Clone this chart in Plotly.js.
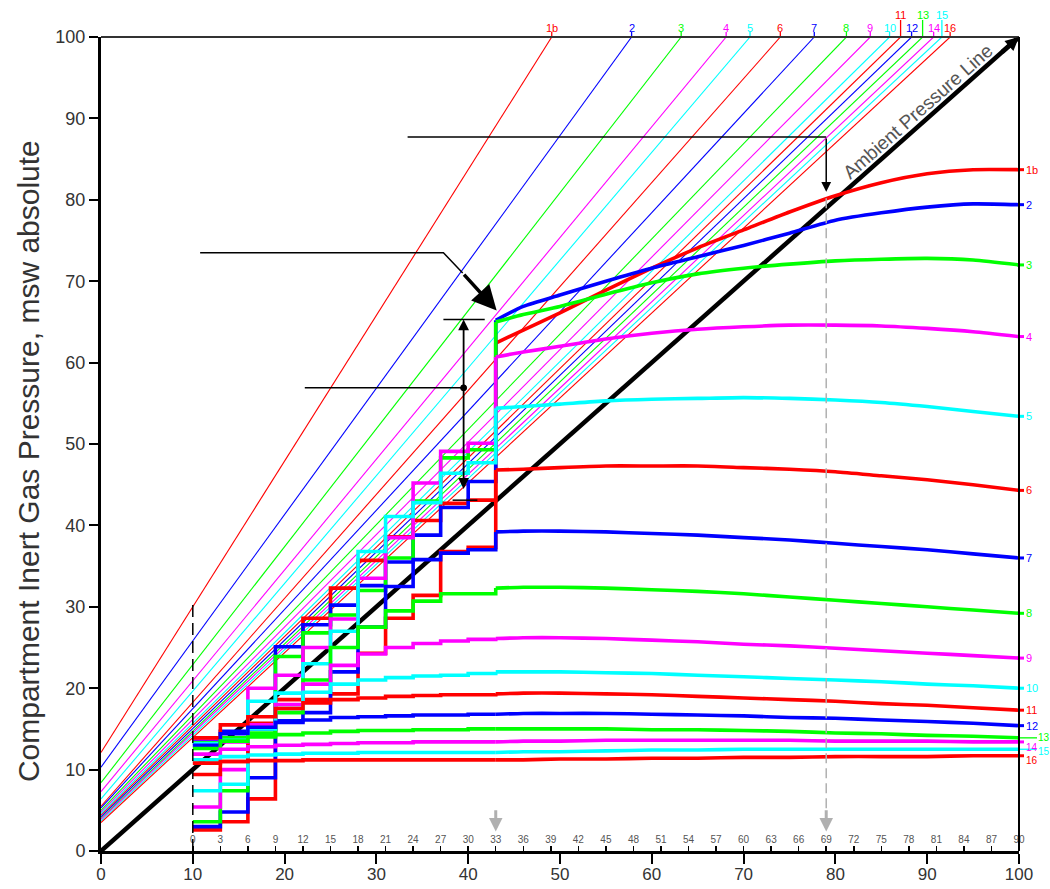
<!DOCTYPE html>
<html><head><meta charset="utf-8">
<script src="https://cdn.plot.ly/plotly-3.0.1.min.js"></script>
<style>html,body{margin:0;padding:0;background:#fff}#chart{width:1050px;height:889px}</style>
</head><body><div id="chart"></div>
<script>
// ---------- DATA ----------
const compLabels = ['1b','2','3','4','5','6','7','8','9','10','11','12','13','14','15','16'];
const palette = ['#ff0000','#0000ff','#00ff00','#ff00ff','#00ffff'];

// M-value lines: value at ambient 0 and ambient value where they reach 100
const mvIntercept = [12.1, 10.3, 8.4, 7.3, 6.4, 5.5, 5.3, 5.0, 4.8, 4.6, 4.4, 4.2, 4.0, 3.9, 3.7, 3.5];
const mvTopX      = [49.1, 57.8, 63.2, 68.1, 70.7, 74.0, 77.7, 81.2, 83.8, 85.9, 87.1, 88.3, 89.5, 90.7, 91.6, 92.5];

// staircase (compression stages), ambient pressure at stage start
const stepX = [10, 13, 16, 19, 22, 25, 28, 31, 34, 37, 40, 43];
const stairValues = [
  [2.6, 3.6, 6.4, 18.6, 28.6, 32.3, 35.7, 38.6, 40.6, 42.7, 43.1],
  [3.0, 4.8, 9.0, 25.1, 27.8, 30.2, 32.6, 35.5, 38.8, 42.2, 45.4],
  [3.6, 7.4, 14.2, 23.9, 26.8, 29.0, 32.0, 36.0, 43.0, 48.3, 49.3],
  [5.4, 10.0, 20.0, 21.6, 25.0, 28.5, 33.5, 38.5, 45.2, 49.1, 50.1],
  [7.4, 8.2, 18.4, 19.4, 23.0, 27.0, 36.8, 41.1, 42.8, 46.4, 47.7],
  [9.4, 11.0, 15.7, 17.5, 18.6, 19.3, 24.3, 28.6, 31.4, 36.8, 37.3],
  [13.6, 14.7, 15.0, 16.0, 17.0, 22.0, 27.5, 32.5, 35.8, 36.6, 37.0],
  [13.3, 13.9, 14.5, 17.0, 21.0, 25.0, 27.5, 29.5, 30.7, 31.6, 31.6],
  [13.8, 13.4, 15.5, 18.0, 20.5, 22.8, 24.2, 25.0, 25.5, 25.8, 26.0],
  [13.2, 13.6, 15.0, 17.5, 19.5, 20.5, 21.0, 21.3, 21.5, 21.6, 21.8],
  [13.9, 15.5, 16.5, 17.5, 18.2, 18.6, 18.8, 19.0, 19.1, 19.2, 19.2],
  [13.0, 14.4, 15.2, 15.8, 16.1, 16.4, 16.5, 16.6, 16.7, 16.7, 16.8],
  [12.6, 13.5, 14.0, 14.3, 14.5, 14.7, 14.8, 14.8, 14.9, 14.9, 15.0],
  [11.9, 12.5, 12.8, 13.0, 13.1, 13.2, 13.3, 13.3, 13.4, 13.4, 13.4],
  [11.2, 11.6, 11.8, 11.9, 12.0, 12.0, 12.1, 12.1, 12.1, 12.1, 12.1],
  [10.8, 11.0, 11.1, 11.1, 11.2, 11.2, 11.2, 11.2, 11.2, 11.2, 11.2]
];

// continuous curves after the last stage
const curveX = [43, 46, 50, 55, 60, 65, 70, 75, 80, 85, 90, 95, 100];
const curveValues = [
  [62.4, 64.0, 66.1, 68.9, 71.6, 74.1, 76.3, 78.5, 80.5, 82.1, 83.2, 83.7, 83.7],
  [65.2, 66.9, 68.3, 70.0, 71.6, 73.0, 74.4, 75.9, 77.5, 78.4, 79.1, 79.5, 79.4],
  [65.0, 65.9, 66.9, 68.4, 69.8, 70.9, 71.6, 72.1, 72.5, 72.7, 72.8, 72.6, 72.0],
  [60.7, 61.3, 62.0, 62.9, 63.6, 64.1, 64.4, 64.6, 64.6, 64.5, 64.2, 63.8, 63.2],
  [54.4, 54.6, 54.9, 55.3, 55.5, 55.6, 55.7, 55.6, 55.4, 55.1, 54.6, 54.0, 53.4],
  [46.8, 46.9, 47.1, 47.3, 47.3, 47.3, 47.1, 46.9, 46.6, 46.1, 45.6, 45.0, 44.3],
  [39.2, 39.3, 39.3, 39.2, 39.0, 38.8, 38.5, 38.2, 37.8, 37.4, 37.0, 36.5, 36.0],
  [32.3, 32.4, 32.4, 32.3, 32.1, 31.9, 31.6, 31.2, 30.8, 30.4, 30.0, 29.6, 29.2],
  [26.1, 26.2, 26.2, 26.1, 25.9, 25.7, 25.4, 25.2, 24.9, 24.6, 24.3, 24.0, 23.7],
  [22.0, 22.0, 22.0, 21.9, 21.8, 21.6, 21.4, 21.2, 21.0, 20.8, 20.5, 20.3, 20.0],
  [19.3, 19.4, 19.4, 19.3, 19.2, 19.0, 18.8, 18.6, 18.4, 18.1, 17.9, 17.6, 17.3],
  [16.8, 16.9, 16.9, 16.9, 16.8, 16.7, 16.6, 16.4, 16.3, 16.1, 15.9, 15.7, 15.4],
  [15.0, 15.0, 15.0, 15.0, 14.9, 14.9, 14.8, 14.7, 14.5, 14.4, 14.2, 14.1, 13.9],
  [13.4, 13.5, 13.5, 13.6, 13.6, 13.6, 13.6, 13.6, 13.5, 13.5, 13.5, 13.4, 13.4],
  [12.1, 12.2, 12.2, 12.3, 12.4, 12.4, 12.5, 12.5, 12.5, 12.5, 12.5, 12.5, 12.5],
  [11.2, 11.2, 11.3, 11.3, 11.4, 11.4, 11.5, 11.5, 11.6, 11.6, 11.6, 11.7, 11.7]
];

const ambientX = [0, 100];
const ambientY = [0, 100];
const xTicks = [0,10,20,30,40,50,60,70,80,90,100];
const yTicks = [0,10,20,30,40,50,60,70,80,90,100];
const minuteTicks = [0,3,6,9,12,15,18,21,24,27,30,33,36,39,42,45,48,51,54,57,60,63,66,69,72,75,78,81,84,87,90];
const raisedTop = ['11','13','15'];
const raisedRight = ['13','15'];
// pixel nudges of right-hand labels (style only)
const rightLabelNudge = {'13': 0, '14': -6, '15': -2, '16': -5};

// ---------- BUILD ----------
const traces = [];
compLabels.forEach((lab, i) => {
  traces.push({x:[0, mvTopX[i]], y:[mvIntercept[i], 100], type:'scatter', mode:'lines',
    line:{color:palette[i%5], width:1.1}, hoverinfo:'skip', showlegend:false});
});
traces.push({x:ambientX, y:ambientY, type:'scatter', mode:'lines',
  line:{color:'#000', width:4.5}, showlegend:false, hoverinfo:'skip'});
compLabels.forEach((lab, i) => {
  traces.push({x:stepX, y:stairValues[i].concat([curveValues[i][0]]), type:'scatter', mode:'lines',
    line:{color:palette[i%5], width:3.6, shape:'hv'}, showlegend:false, name:lab});
  traces.push({x:curveX, y:curveValues[i], type:'scatter', mode:'lines',
    line:{color:palette[i%5], width:3.6, shape:'spline', smoothing:0.6}, showlegend:false, name:lab});
});
// dummy trace for secondary axis
traces.push({x:[minuteTicks[0]], y:[0], xaxis:'x2', yaxis:'y', mode:'markers',
  marker:{opacity:0}, showlegend:false, hoverinfo:'skip'});

const small = {family:'Liberation Sans, Arial, sans-serif', size:11};
const annotations = [];
const shapes = [];
compLabels.forEach((lab, i) => {
  const col = palette[i%5];
  const up = raisedTop.includes(lab);
  shapes.push({type:'line', xref:'x', yref:'paper', x0:mvTopX[i], x1:mvTopX[i], y0:1, y1:1 + (up ? 17 : 5)/814,
    line:{color:col, width:1.3}});
  annotations.push({x:mvTopX[i], y:1, xref:'x', yref:'paper', yanchor:'bottom', xanchor:'center',
    yshift: up ? 14 : 1, text:lab, showarrow:false, font:Object.assign({}, small, {color:col})});
  const endV = curveValues[i][curveValues[i].length-1];
  const far = raisedRight.includes(lab);
  shapes.push({type:'line', xref:'paper', yref:'y', x0:1, x1:1 + (far ? 18 : 5)/918, y0:endV, y1:endV,
    line:{color:col, width: far ? 1.3 : 3}});
  annotations.push({x:1, y:endV, xref:'paper', yref:'y', xanchor:'left', yanchor:'middle',
    xshift: far ? 18 : 6, yshift: rightLabelNudge[lab] || 0, text:lab, showarrow:false,
    borderpad:0, font:Object.assign({}, small, {color:col, size: (lab in rightLabelNudge) ? 10 : 11})});
});

// explanatory drawing
const blk = {color:'#000', width:1.5};
shapes.push({type:'line', xref:'paper', yref:'paper', x0:0, x1:1, y0:1, y1:1, line:{color:'#333', width:2}});
shapes.push({type:'line', xref:'paper', yref:'paper', x0:1, x1:1, y0:0, y1:1, line:{color:'#000', width:2}});
shapes.push({type:'line', x0:10, x1:10, y0:0, y1:30.5, line:{color:'#000', width:1.5, dash:'12px,6px'}});
shapes.push({type:'path', path:'M 33.4 87.7 L 79 87.7', line:blk});
shapes.push({type:'path', path:'M 10.8 73.5 L 37.3 73.5 L 39.4 71.0', line:blk});
shapes.push({type:'line', x0:22.2, x1:39.5, y0:56.9, y1:56.9, line:blk});
shapes.push({type:'line', x0:37.3, x1:41.8, y0:65.3, y1:65.3, line:blk});
shapes.push({type:'line', x0:38.3, x1:41.0, y0:43.1, y1:43.1, line:blk});
shapes.push({type:'circle', xsizemode:'pixel', ysizemode:'pixel', xanchor:39.5, yanchor:56.9,
  x0:-3, x1:3, y0:-3, y1:3, fillcolor:'#000', line:{color:'#000', width:1}});
shapes.push({type:'line', x0:79, x1:79, y0:80.2, y1:4.5, line:{color:'#b0b0b0', width:1.5, dash:'10px,5px'}});

const arr = (o) => Object.assign({text:'', showarrow:true, axref:'x', ayref:'y', xref:'x', yref:'y',
  arrowcolor:'#000', arrowhead:2, arrowwidth:1.5, arrowsize:1.3}, o);
annotations.push(arr({x:79, y:81.0, ax:79, ay:87.7}));
annotations.push(arr({x:43.1, y:66.4, ax:39.4, ay:71.0, arrowwidth:3.5, arrowsize:1.4}));
annotations.push(arr({x:39.5, y:65.3, ax:39.5, ay:44.3, arrowside:'end+start', arrowwidth:1.8, arrowsize:1.2}));
annotations.push(arr({x:79, y:2.4, ax:79, ay:5.2, arrowcolor:'#b0b0b0', arrowwidth:3, arrowsize:0.9}));
annotations.push(arr({x:43, y:2.4, ax:43, ay:5.2, arrowcolor:'#b0b0b0', arrowwidth:3, arrowsize:0.9}));
annotations.push(arr({x:100, y:100, ax:98, ay:98, arrowwidth:4.5, arrowsize:0.6}));
annotations.push({x:89.0, y:90.8, xref:'x', yref:'y', text:'Ambient Pressure Line', showarrow:false,
  textangle:-41.5, font:{family:'Liberation Sans, Arial, sans-serif', size:19, color:'#555'}});
// y-axis title placed like the reference (slightly below plot centre)
annotations.push({x:-0.0795, y:47.9, xref:'paper', yref:'y', text:'Compartment Inert Gas Pressure, msw absolute',
  showarrow:false, textangle:-90, xanchor:'center', yanchor:'middle',
  font:{family:'Liberation Sans, Arial, sans-serif', size:30, color:'#333'}});

const layout = {
  width:1050, height:889,
  margin:{l:101, r:31, t:37, b:38},
  paper_bgcolor:'#fff', plot_bgcolor:'#fff',
  showlegend:false,
  xaxis:{range:[0,100], tickvals:xTicks, ticks:'outside', ticklen:10, tickwidth:2, tickcolor:'#000',
    showline:true, linewidth:3, linecolor:'#000', showgrid:false, zeroline:false, fixedrange:true,
    ticklabelstandoff:-4,
    tickfont:{family:'Liberation Sans, Arial, sans-serif', size:17, color:'#333'}},
  xaxis2:{range:[-10,90], overlaying:'x', anchor:'y', side:'bottom', tickvals:minuteTicks,
    ticks:'inside', ticklen:5, tickwidth:1.5, tickcolor:'#000', ticklabelposition:'inside',
    ticklabeloverflow:'allow', showline:false, showgrid:false, zeroline:false,
    tickfont:{family:'Liberation Sans, Arial, sans-serif', size:10, color:'#555'}},
  yaxis:{range:[0,100], tickvals:yTicks, ticks:'outside', ticklen:9, tickwidth:2, tickcolor:'#000',
    showline:true, linewidth:3, linecolor:'#000', showgrid:false, zeroline:false,
    tickfont:{family:'Liberation Sans, Arial, sans-serif', size:18, color:'#333'}},
  shapes:shapes,
  annotations:annotations
};
Plotly.newPlot('chart', traces, layout, {displayModeBar:false, staticPlot:true});
</script></body></html>
